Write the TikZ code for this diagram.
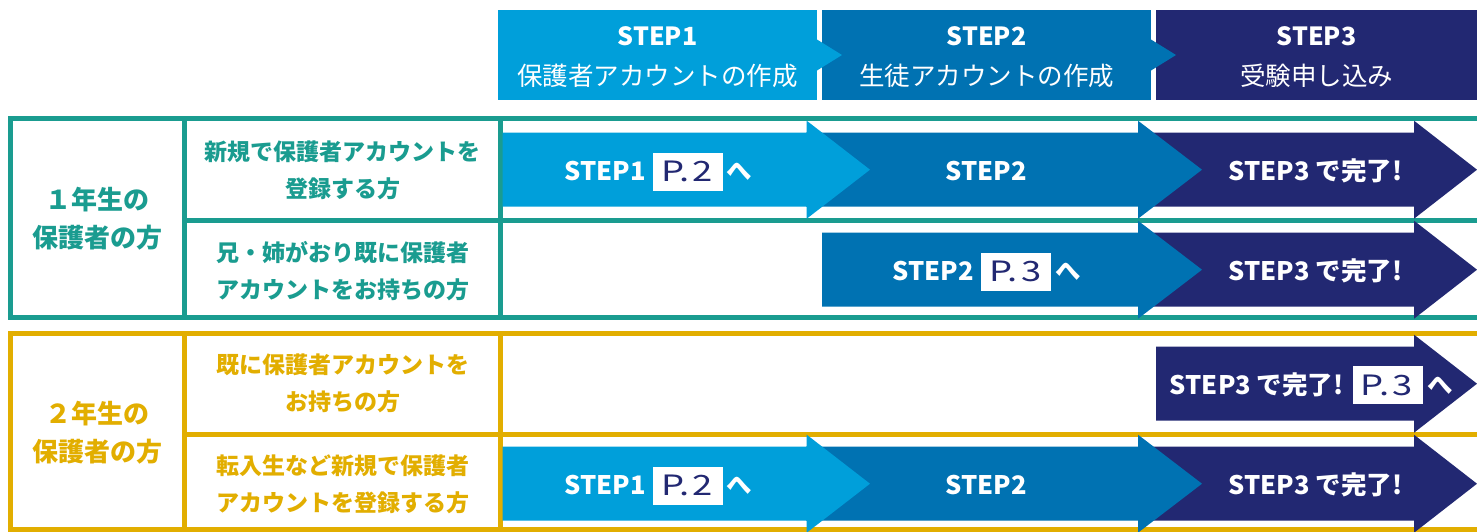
\documentclass[tikz,border=0pt]{standalone}
\usepackage{fontspec}
\setmainfont{Noto Sans CJK JP}
\newfontfamily\pgfont{Noto Sans CJK JP}[FakeStretch=1.3]
\definecolor{sone}{HTML}{009FDA}
\definecolor{stwo}{HTML}{0072B2}
\definecolor{sthree}{HTML}{222872}
\definecolor{tealc}{HTML}{1A9C90}
\definecolor{goldc}{HTML}{E2AE00}
\newcommand\myarrow[5]{\fill[#1] (#2,#5-37) -- (#3,#5-37) -- (#3,#5-49) -- (#4,#5) -- (#3,#5+49) -- (#3,#5+37) -- (#2,#5+37) -- cycle;}
\newcommand\pref[1]{P.\kern3pt#1\kern2pt}
\begin{document}
\begin{tikzpicture}[x=1pt,y=-1pt,
  every node/.style={inner sep=0pt,outer sep=0pt},
  hdrbox/.style={minimum height=90pt},
  hdrstep/.style={text=white,font=\fontsize{25}{30}\selectfont\bfseries,anchor=base},
  hdrname/.style={text=white,font=\fontsize{25.5}{30}\selectfont,anchor=base},
  steptext/.style={text=white,font=\fontsize{25.5}{30}\selectfont\bfseries,anchor=base},
  pbox/.style={fill=white,minimum width=70pt,minimum height=38pt,text=sthree,font=\fontsize{28}{30}\pgfont},
  grouplabel/.style={align=center,font=\fontsize{26}{38}\selectfont\bfseries},
  celllabel/.style={align=center,font=\fontsize{23}{37}\selectfont\bfseries},
  frame/.style={line width=5pt}]
\useasboundingbox (0,0) rectangle (1477,531);
\fill[white] (0,0) rectangle (1477,531);

% header
\node[hdrbox,fill=sthree,minimum width=321pt] (h3) at (1316.5,55) {};
\node[hdrbox,fill=stwo,minimum width=329pt] (h2) at (986.5,55) {};
\fill[stwo] (h2.east) ++(0,-15.5) -- ++(25,15.5) -- ++(-25,15.5) -- cycle;
\node[hdrbox,fill=sone,minimum width=319pt] (h1) at (657.5,55) {};
\fill[sone] (h1.east) ++(0,-15.5) -- ++(25,15.5) -- ++(-25,15.5) -- cycle;
\node[hdrstep] (h1a) at (657.5,45) {STEP1};
\node[hdrname] (h1b) at (657.5,85.5) {保護者アカウントの作成};
\node[hdrstep] (h2a) at (986.5,45) {STEP2};
\node[hdrname] (h2b) at (986.5,85.5) {生徒アカウントの作成};
\node[hdrstep] (h3a) at (1316.5,45) {STEP3};
\node[hdrname] (h3b) at (1316.5,85.5) {受験申し込み};

% teal frame
\draw[frame,tealc] (1477,118.5) -- (10.5,118.5) -- (10.5,317) -- (1477,317);
\draw[frame,tealc] (184.5,118.5) -- (184.5,317);
\draw[frame,tealc] (500,118.5) -- (500,317);
\draw[frame,tealc] (184.5,220) -- (1477,220);
% gold frame
\draw[frame,goldc] (1477,333) -- (10.5,333) -- (10.5,529.5) -- (1477,529.5);
\draw[frame,goldc] (184.5,333) -- (184.5,529.5);
\draw[frame,goldc] (500,333) -- (500,529.5);
\draw[frame,goldc] (184.5,434.5) -- (1477,434.5);

% labels
\node[grouplabel,text=tealc] (g1) at (97.5,219) {１年生の\\保護者の方};
\node[celllabel,text=tealc] (c1) at (342.5,170.5) {新規で保護者アカウントを\\登録する方};
\node[celllabel,text=tealc] (c2) at (342.5,271.5) {兄・姉がおり既に保護者\\アカウントをお持ちの方};
\node[grouplabel,text=goldc] (g2) at (97.5,432.4) {２年生の\\保護者の方};
\node[celllabel,text=goldc] (c3) at (342.5,383.4) {既に保護者アカウントを\\お持ちの方};
\node[celllabel,text=goldc] (c4) at (342.5,484) {転入生など新規で保護者\\アカウントを登録する方};

% row 1
\myarrow{sthree}{1138}{1414}{1477}{169.7}
\myarrow{stwo}{806}{1138}{1202}{169.7}
\myarrow{sone}{502.5}{806.7}{870}{169.7}
\node[steptext,anchor=base east] (r1a) at (645.5,180) {STEP1};
\node[pbox] (r1p) at (688,171.5) {\pref{2}};
\node[steptext,anchor=base west] (r1b) at (726,180) {へ};
\node[steptext] (r1c) at (986,180) {STEP2};
\node[steptext] (r1d) at (1315.5,180) {STEP3 で完了!};

% row 2
\myarrow{sthree}{1138}{1414}{1477}{269.7}
\myarrow{stwo}{822}{1138}{1202}{269.7}
\node[steptext,anchor=base east] (r2a) at (973.5,280) {STEP2};
\node[pbox] (r2p) at (1016.3,271.5) {\pref{3}};
\node[steptext,anchor=base west] (r2b) at (1055,280) {へ};
\node[steptext] (r2d) at (1315.5,280) {STEP3 で完了!};

% row 3
\myarrow{sthree}{1156}{1414}{1477}{383.7}
\node[steptext,anchor=base east] (r3a) at (1343.5,394) {STEP3 で完了!};
\node[pbox] (r3p) at (1387.7,385) {\pref{3}};
\node[steptext,anchor=base west] (r3b) at (1427,394) {へ};

% row 4
\myarrow{sthree}{1138}{1414}{1477}{483.7}
\myarrow{stwo}{806}{1138}{1202}{483.7}
\myarrow{sone}{502.5}{806.7}{870}{483.7}
\node[steptext,anchor=base east] (r4a) at (645.5,494) {STEP1};
\node[pbox] (r4p) at (688,485.5) {\pref{2}};
\node[steptext,anchor=base west] (r4b) at (726,494) {へ};
\node[steptext] (r4c) at (986,494) {STEP2};
\node[steptext] (r4d) at (1315.5,494) {STEP3 で完了!};
\end{tikzpicture}
\end{document}
